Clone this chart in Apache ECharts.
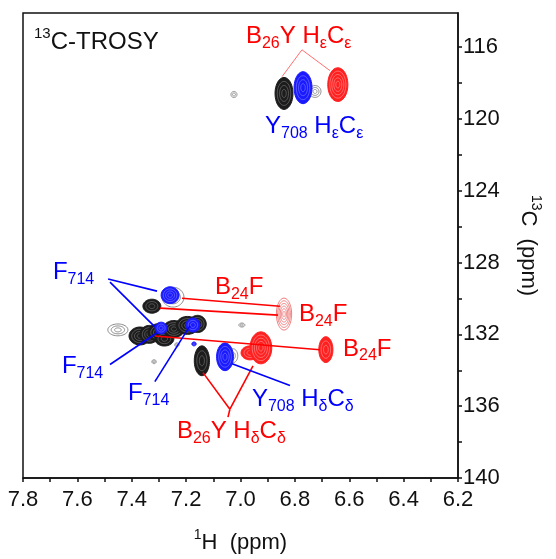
<!DOCTYPE html>
<html><head><meta charset="utf-8">
<script src="https://cdn.jsdelivr.net/npm/echarts@6/dist/echarts.min.js"></script>
<style>html,body{margin:0;padding:0;background:#fff}#c{width:556px;height:559px}</style>
</head><body><div id="c"></div>
<script>
const FONT = "'Liberation Sans', Arial, Helvetica, sans-serif";

// axis ticks (ppm)
const xLabelValues = [6.2, 6.4, 6.6, 6.8, 7.0, 7.2, 7.4, 7.6, 7.8];
const xTickValues = [6.2, 6.3, 6.4, 6.5, 6.6, 6.7, 6.8, 6.9, 7.0, 7.1, 7.2, 7.3, 7.4, 7.5, 7.6, 7.7, 7.8];
const yLabelValues = [116, 120, 124, 128, 132, 136, 140];
const yTickValues = [116, 118, 120, 122, 124, 126, 128, 130, 132, 134, 136, 138, 140];

// peaks: [1H ppm, 13C ppm, half-width 1H ppm, half-width 13C ppm]
const greyPeaks = [
  [7.024, 118.64, 0.011, 0.17],
  [6.726, 118.47, 0.022, 0.33],
  [7.451, 131.75, 0.037, 0.33],
  [6.995, 131.48, 0.011, 0.11],
  [7.234, 132.58, 0.008, 0.11],
  [7.318, 133.52, 0.008, 0.11],
  [7.028, 133.19, 0.018, 0.39],
  [7.248, 129.93, 0.040, 0.55]
];
const blackPeaks = [
  [6.840, 118.58, 0.033, 0.89],
  [7.326, 130.43, 0.033, 0.39],
  [7.370, 132.09, 0.040, 0.50],
  [7.335, 132.00, 0.035, 0.50],
  [7.300, 131.90, 0.040, 0.50],
  [7.280, 132.25, 0.035, 0.40],
  [7.245, 131.70, 0.040, 0.47],
  [7.195, 131.50, 0.042, 0.50],
  [7.158, 131.42, 0.032, 0.48],
  [7.142, 133.47, 0.028, 0.83]
];
const bluePeaks = [
  [6.770, 118.26, 0.033, 0.89],
  [7.259, 129.82, 0.033, 0.47],
  [7.292, 131.65, 0.022, 0.33],
  [7.175, 131.48, 0.026, 0.39],
  [7.057, 133.25, 0.031, 0.77],
  [7.171, 132.53, 0.008, 0.11]
];
const redPeaks = [
  [6.642, 118.09, 0.037, 0.94],
  [6.965, 133.03, 0.033, 0.39],
  [6.925, 132.75, 0.040, 0.89],
  [6.686, 132.85, 0.026, 0.72]
];
const paleRedPeaks = [
  [6.840, 130.87, 0.028, 0.89]
];

// leader lines: [H1, C1, H2, C2]
const paleRedLeaders = [
  [6.774, 116.15, 6.847, 117.64],
  [6.774, 116.15, 6.671, 117.31]
];
const redLeaders = [
  [7.215, 129.99, 6.855, 130.43],
  [7.296, 130.54, 6.862, 130.93],
  [7.315, 132.09, 6.708, 132.86],
  [7.039, 136.17, 7.138, 134.13],
  [7.039, 136.17, 6.954, 133.75],
  [7.039, 136.17, 7.046, 136.61]
];
const blueLeaders = [
  [7.487, 128.92, 7.307, 129.59],
  [7.480, 129.09, 7.315, 131.58],
  [7.480, 133.68, 7.307, 131.91],
  [7.315, 134.63, 7.186, 131.53],
  [7.031, 133.63, 6.818, 134.85]
];

// annotation labels (anchor = top-left of text, in ppm)
const redLabelTexts = ['{m|B}{s|26}{m|Y H}{s|ε}{m|C}{s|ε}', '{m|B}{s|24}{m|F}', '{m|B}{s|24}{m|F}', '{m|B}{s|24}{m|F}', '{m|B}{s|26}{m|Y H}{s|δ}{m|C}{s|δ}'];
const redLabelAnchors = [[6.980, 114.75], [7.094, 128.71], [6.785, 130.21], [6.623, 132.14], [7.234, 136.74]];
const blueLabelTexts = ['{m|Y}{s|708}{m| H}{s|ε}{m|C}{s|ε}', '{m|F}{s|714}', '{m|F}{s|714}', '{m|F}{s|714}', '{m|Y}{s|708}{m| H}{s|δ}{m|C}{s|δ}'];
const blueLabelAnchors = [[6.910, 119.75], [7.690, 127.88], [7.657, 133.14], [7.414, 134.63], [6.958, 134.97]];

function ellipsePts(cx, cy, rx, ry) {
  const pts = [];
  for (let i = 0; i < 48; i++) {
    const a = i / 48 * Math.PI * 2;
    pts.push([cx + rx * Math.cos(a), cy + ry * Math.sin(a)]);
  }
  return pts;
}
// filled peak: solid outer contour, faint lighter inner contours
function solidPeakRenderer(color, inner) {
  return function (params, api) {
    const c = api.coord([api.value(0), api.value(1)]);
    const s = api.size([api.value(2), api.value(3)], [api.value(0), api.value(1)]);
    const rx = s[0], ry = s[1];
    const n = Math.max(2, Math.round(Math.min(rx, ry) / 2.2));
    const children = [{
      type: 'polygon',
      shape: { points: ellipsePts(c[0], c[1], rx, ry) },
      style: { fill: color, stroke: color, lineWidth: 1 }
    }];
    for (let k = 1; k < n; k++) {
      const f = 1 - k / n;
      children.push({
        type: 'polygon',
        shape: { points: ellipsePts(c[0], c[1], Math.max(rx * f, 0.5), Math.max(ry * f, 0.5)) },
        style: { fill: 'none', stroke: inner, lineWidth: 0.6 }
      });
    }
    return { type: 'group', children: children };
  };
}
// outline peak: concentric contour lines only
function ringPeakRenderer(color, spacing, lw, maxRings) {
  return function (params, api) {
    const c = api.coord([api.value(0), api.value(1)]);
    const s = api.size([api.value(2), api.value(3)], [api.value(0), api.value(1)]);
    const rx = s[0], ry = s[1];
    let n = Math.max(2, Math.round(Math.min(rx, ry) / spacing));
    if (maxRings) n = Math.min(n, maxRings);
    const children = [];
    for (let k = 0; k < n; k++) {
      const f = 1 - k / n;
      children.push({
        type: 'polygon',
        shape: { points: ellipsePts(c[0], c[1], Math.max(rx * f, 0.6), Math.max(ry * f, 0.6)) },
        style: { fill: 'none', stroke: color, lineWidth: lw }
      });
    }
    return { type: 'group', children: children };
  };
}
function peakSeries(data, renderer, z) {
  return {
    type: 'custom', coordinateSystem: 'cartesian2d', data: data,
    encode: { x: 0, y: 1 }, renderItem: renderer,
    clip: true, silent: true, z: z, animation: false
  };
}
function leaderSeries(data, color, lw) {
  return {
    type: 'custom', coordinateSystem: 'cartesian2d', data: data,
    encode: { x: [0, 2], y: [1, 3] }, silent: true, z: 5, animation: false,
    renderItem: function (params, api) {
      const a = api.coord([api.value(0), api.value(1)]);
      const b = api.coord([api.value(2), api.value(3)]);
      return { type: 'line', shape: { x1: a[0], y1: a[1], x2: b[0], y2: b[1] }, style: { stroke: color, lineWidth: lw } };
    }
  };
}
function labelSeries(anchors, texts, color) {
  return {
    type: 'custom', coordinateSystem: 'cartesian2d', data: anchors,
    encode: { x: 0, y: 1 }, silent: true, z: 10, animation: false,
    renderItem: function (params, api) {
      const p = api.coord([api.value(0), api.value(1)]);
      return {
        type: 'text', x: p[0], y: p[1],
        style: {
          text: texts[params.dataIndex], fill: color, align: 'left', verticalAlign: 'top',
          fontFamily: FONT, fontSize: 24,
          rich: {
            m: { fill: color, fontFamily: FONT, fontSize: 24, lineHeight: 24, verticalAlign: 'top' },
            s: { fill: color, fontFamily: FONT, fontSize: 16, lineHeight: 16, verticalAlign: 'top', padding: [11, 0, 0, 0] }
          }
        }
      };
    }
  };
}

const chart = echarts.init(document.getElementById('c'), null, { renderer: 'canvas' });
chart.setOption({
  animation: false,
  backgroundColor: '#fff',
  title: {
    text: '{sup|13}{m|C-TROSY}', left: 29, top: 21,
    textStyle: {
      fontWeight: 'normal',
      rich: {
        sup: { fontFamily: FONT, fontWeight: 'normal', fontSize: 15, color: '#111', lineHeight: 15, verticalAlign: 'top' },
        m: { fontFamily: FONT, fontWeight: 'normal', fontSize: 24, color: '#111', lineHeight: 24, verticalAlign: 'top', padding: [4, 0, 0, 0] }
      }
    }
  },
  grid: { left: 23, right: 98, top: 13, bottom: 78, show: true, borderColor: '#111', borderWidth: 1.5, containLabel: false },
  xAxis: {
    type: 'value', min: 6.2, max: 7.8, inverse: true, position: 'bottom',
    axisLine: { show: true, lineStyle: { color: '#111', width: 1.5 } },
    axisTick: { show: true, inside: false, length: 4, customValues: xTickValues, lineStyle: { color: '#111', width: 1.5 } },
    splitLine: { show: false },
    axisLabel: { customValues: xLabelValues, fontFamily: FONT, fontSize: 22, color: '#111', margin: 11, formatter: v => v.toFixed(1) },
    name: '{sup|1}{m|H  (ppm)}', nameLocation: 'middle', nameGap: 50,
    nameTextStyle: {
      rich: {
        sup: { fontFamily: FONT, fontSize: 14, color: '#111', lineHeight: 14, verticalAlign: 'top' },
        m: { fontFamily: FONT, fontSize: 22, color: '#111', lineHeight: 22, verticalAlign: 'top', padding: [4, 0, 0, 0] }
      }
    }
  },
  yAxis: {
    type: 'value', min: 114.1, max: 140, inverse: true, position: 'right',
    axisLine: { show: true, lineStyle: { color: '#111', width: 1.5 } },
    axisTick: { show: true, inside: false, length: 4, customValues: yTickValues, lineStyle: { color: '#111', width: 1.5 } },
    splitLine: { show: false },
    axisLabel: { customValues: yLabelValues, fontFamily: FONT, fontSize: 22, color: '#111', margin: 5 },
    name: '{sup|13}{m|C  (ppm)}', nameLocation: 'middle', nameRotate: -90, nameGap: 63,
    nameTextStyle: {
      rich: {
        sup: { fontFamily: FONT, fontSize: 14, color: '#111', lineHeight: 14, verticalAlign: 'top' },
        m: { fontFamily: FONT, fontSize: 22, color: '#111', lineHeight: 22, verticalAlign: 'top', padding: [4, 0, 0, 0] }
      }
    }
  },
  series: [
    peakSeries(greyPeaks, ringPeakRenderer('#8a8a8a', 2.2, 1, 3), 1),
    peakSeries(blackPeaks, solidPeakRenderer('#1c1c1c', 'rgba(200,200,200,0.55)'), 2),
    peakSeries(bluePeaks, solidPeakRenderer('#1a1aff', 'rgba(200,200,255,0.6)'), 3),
    peakSeries(paleRedPeaks, ringPeakRenderer('#f07f7f', 1.2, 1, 0), 3),
    peakSeries(redPeaks, solidPeakRenderer('#ff2020', 'rgba(255,215,215,0.7)'), 4),
    leaderSeries(paleRedLeaders, '#ff6f6f', 1),
    leaderSeries(redLeaders, '#ff0000', 1.6),
    leaderSeries(blueLeaders, '#0000ff', 1.6),
    labelSeries(redLabelAnchors, redLabelTexts, '#ff0000'),
    labelSeries(blueLabelAnchors, blueLabelTexts, '#0000ff')
  ]
});
</script></body></html>
